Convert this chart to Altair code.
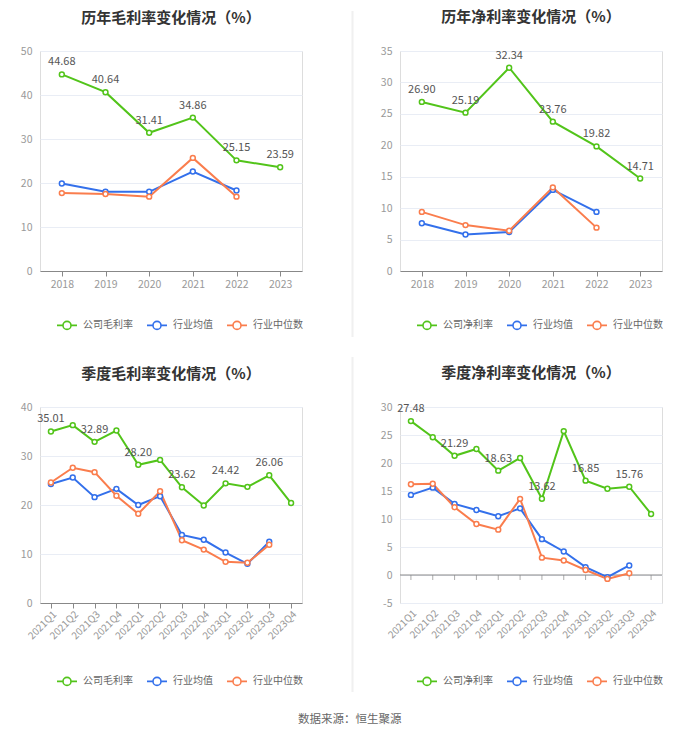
import altair as alt
import pandas as pd

FONT = "Noto Sans CJK SC"
GREEN, BLUE, ORANGE = "#52c41a", "#3370eb", "#fa7d4d"

# ---------------- data ----------------
years = ["2018", "2019", "2020", "2021", "2022", "2023"]
gm_company = [44.68, 40.64, 31.41, 34.86, 25.15, 23.59]
gm_avg = [19.9, 18.0, 18.0, 22.6, 18.3, None]
gm_med = [17.7, 17.5, 16.9, 25.7, 16.9, None]

nm_company = [26.90, 25.19, 32.34, 23.76, 19.82, 14.71]
nm_avg = [7.6, 5.8, 6.2, 12.9, 9.4, None]
nm_med = [9.4, 7.3, 6.4, 13.3, 6.9, None]

quarters = ["2021Q1", "2021Q2", "2021Q3", "2021Q4",
            "2022Q1", "2022Q2", "2022Q3", "2022Q4",
            "2023Q1", "2023Q2", "2023Q3", "2023Q4"]
qgm_company = [35.01, 36.3, 32.89, 35.2, 28.20, 29.2, 23.62, 19.9, 24.42, 23.7, 26.06, 20.4]
qgm_avg = [24.3, 25.6, 21.6, 23.3, 20.0, 21.8, 13.9, 12.9, 10.3, 8.0, 12.5, None]
qgm_med = [24.6, 27.6, 26.7, 21.9, 18.2, 22.8, 12.8, 10.9, 8.4, 8.2, 11.9, None]

qnm_company = [27.48, 24.6, 21.29, 22.5, 18.63, 20.9, 13.62, 25.7, 16.85, 15.4, 15.76, 10.9]
qnm_avg = [14.3, 15.6, 12.7, 11.6, 10.5, 11.9, 6.4, 4.2, 1.4, -0.4, 1.7, None]
qnm_med = [16.2, 16.3, 12.1, 9.1, 8.1, 13.6, 3.1, 2.6, 0.9, -0.7, 0.3, None]

series_avg = "行业均值"
series_med = "行业中位数"

LEGEND_PATH = ("M-1,0L-0.4,0M0.4,0L1,0"
               "M-0.4,0A0.4,0.4,0,1,1,0.4,0A0.4,0.4,0,1,1,-0.4,0")

W = 262
TITLE_BASELINE_Y = -25   # desired title bottom, relative to plot top
LABEL_TOP = -5.25        # top of the highest y-axis label


def make_df(cats, names, lists, label_every):
    rows = []
    for name, vals in zip(names, lists):
        for i, (c, v) in enumerate(zip(cats, vals)):
            if v is None:
                continue
            lab = f"{v:.2f}" if (name == names[0] and i % label_every == 0) else ""
            rows.append({"cat": c, "series": name, "value": v, "label": lab})
    return pd.DataFrame(rows)


def panel(cats, company, lists, title, ymin, ymax, ystep, h,
          rotate=False, zero_line=False, label_every=1, sep=None):
    names = [company, series_avg, series_med]
    df = make_df(cats, names, lists, label_every)

    if zero_line:
        xaxis = alt.Axis(domain=False, ticks=False, labelAngle=-45,
                         labelAlign="right", labelBaseline="top",
                         labelPadding=5, labelColor="#999", labelFont=FONT,
                         labelFontSize=10, grid=False)
    elif rotate:
        xaxis = alt.Axis(domainColor="#888", tickColor="#888", tickSize=5,
                         labelAngle=-45, labelAlign="right", labelBaseline="top",
                         labelPadding=1, labelColor="#999", labelFont=FONT,
                         labelFontSize=10, grid=False)
    else:
        xaxis = alt.Axis(domainColor="#888", tickColor="#888", tickSize=5,
                         labelAngle=0, labelPadding=3, labelColor="#999",
                         labelFont=FONT, labelFontSize=10.5, grid=False)

    xs = alt.Scale(type="point", domain=cats, padding=0.5)
    ys = alt.Scale(domain=[ymin, ymax], nice=False, zero=False)
    yaxis = alt.Axis(values=list(range(ymin, ymax + 1, ystep)),
                     grid=True, gridColor="#e9edf5", domain=False,
                     ticks=False, labelColor="#999", labelFont=FONT,
                     labelFontSize=10.5, labelPadding=8, labelOverlap=False,
                     labelExpr="datum.value + ''")

    def yenc(field):
        return alt.Y(field, title=None, scale=ys, axis=yaxis)

    def xenc():
        return alt.X("cat:N", sort=cats, scale=xs, title=None, axis=xaxis)

    cscale = alt.Scale(domain=names, range=[GREEN, BLUE, ORANGE])
    color_leg = alt.Color(
        "series:N", scale=cscale,
        legend=alt.Legend(orient="none", legendX=16, legendY=263,
                          direction="horizontal", title=None,
                          symbolType=LEGEND_PATH, symbolSize=400,
                          symbolStrokeWidth=1.6, symbolFillColor="white",
                          labelFont=FONT, labelFontSize=10, labelColor="#666",
                          labelOffset=5, columnPadding=10))
    color_nol = alt.Color("series:N", scale=cscale, legend=None)

    base = alt.Chart(df)
    layers = []
    top = LABEL_TOP
    if sep is not None:
        layers.append(
            alt.Chart(pd.DataFrame({"v": [0]})).mark_rule(color="#f0f0f0", strokeWidth=2)
            .encode(x=alt.value(-47.5), y=alt.value(sep[0]), y2=alt.value(sep[1])))
        top = min(top, sep[0])
    if zero_line:
        layers.append(
            alt.Chart(pd.DataFrame({"v": [0]})).mark_rule(color="#888", strokeWidth=1)
            .encode(y=yenc("v:Q"), x=alt.value(0), x2=alt.value(W)))
        layers.append(
            alt.Chart(pd.DataFrame({"cat": cats, "v": [0] * len(cats)}))
            .mark_tick(orient="vertical", size=5, thickness=1, color="#888", yOffset=2.5)
            .encode(x=xenc(), y=yenc("v:Q")))
    layers += [
        base.mark_line(strokeWidth=2).encode(x=xenc(), y=yenc("value:Q"), color=color_leg),
        base.mark_point(shape="circle", filled=False, fill="white", fillOpacity=1,
                        opacity=1, size=24, strokeWidth=1.5)
        .encode(x=xenc(), y=yenc("value:Q"), color=color_nol),
        base.transform_filter("datum.label != ''")
        .mark_text(dy=-12, fontSize=11, color="#555", font=FONT)
        .encode(x=xenc(), y=yenc("value:Q"), text="label:N"),
    ]
    offset = top - TITLE_BASELINE_Y
    return alt.layer(*layers).properties(
        width=W, height=h,
        title=alt.TitleParams(title, font=FONT, fontSize=15, fontWeight="bold",
                              color="#333", anchor="middle", offset=offset))


p1 = panel(years, "公司毛利率", [gm_company, gm_avg, gm_med],
           "历年毛利率变化情况（%）", 0, 50, 10, 220)
p2 = panel(years, "公司净利率", [nm_company, nm_avg, nm_med],
           "历年净利率变化情况（%）", 0, 35, 5, 220, sep=(-40, 286))
p3 = panel(quarters, "公司毛利率", [qgm_company, qgm_avg, qgm_med],
           "季度毛利率变化情况（%）", 0, 40, 10, 196, rotate=True, label_every=2)
p4 = panel(quarters, "公司净利率", [qnm_company, qnm_avg, qnm_med],
           "季度净利率变化情况（%）", -5, 30, 5, 196, zero_line=True,
           label_every=2, sep=(-50, 285))

chart = alt.concat(p1, p2, p3, p4, columns=2,
                   spacing={"row": 136, "column": 98}, bounds="flush").resolve_scale(
    x="independent", y="independent", color="independent"
).properties(
    padding={"left": 11, "top": 1, "right": 5, "bottom": 5},
    title=alt.TitleParams("数据来源：恒生聚源", orient="bottom", anchor="middle",
                          font=FONT, fontSize=11.5, fontWeight="normal",
                          color="#666", offset=20, dx=8),
).configure_view(stroke=None).configure(background="white")

chart.save("out.html", embed_options={"renderer": "svg", "actions": False})
